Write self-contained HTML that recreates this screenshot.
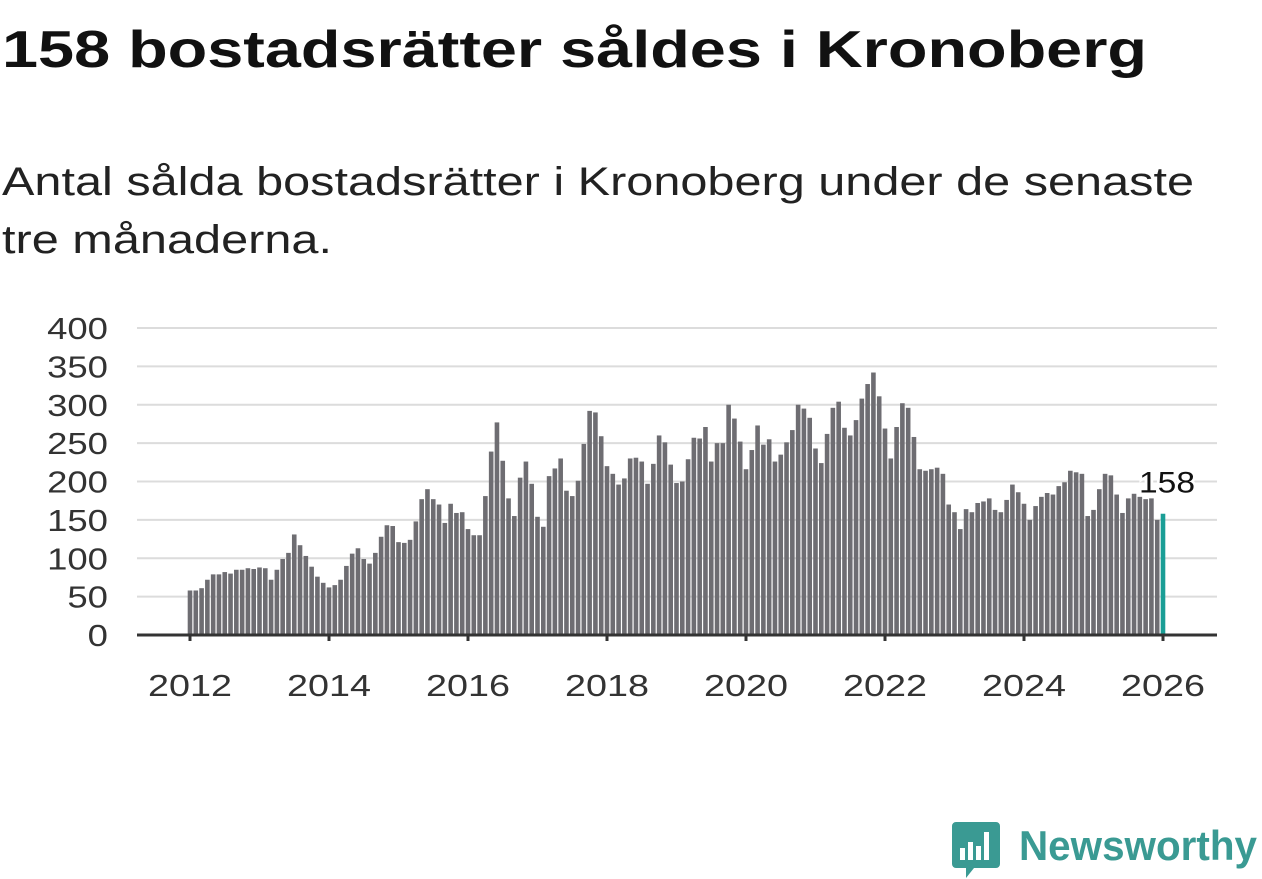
<!DOCTYPE html>
<html><head><meta charset="utf-8"><style>
body{margin:0;background:#fff;width:1262px;height:879px;overflow:hidden}
svg{display:block;font-family:"Liberation Sans","DejaVu Sans",sans-serif}
</style></head><body>
<svg id="chart" width="1262" height="879">
<text x="2" y="67" font-size="52" font-weight="bold" fill="#111" textLength="1145" lengthAdjust="spacingAndGlyphs">158 bostadsrätter såldes i Kronoberg</text>
<text x="2" y="195" font-size="40" fill="#222" textLength="1192" lengthAdjust="spacingAndGlyphs">Antal sålda bostadsrätter i Kronoberg under de senaste</text>
<text x="2" y="253" font-size="40" fill="#222" textLength="330" lengthAdjust="spacingAndGlyphs">tre månaderna.</text>
<g id="grid"></g><g id="bars"></g><g id="axes"></g>
<g>
<path d="M956 822 h40 a4 4 0 0 1 4 4 v38 a4 4 0 0 1 -4 4 h-22 l-8 10 v-10 h-10 a4 4 0 0 1 -4 -4 v-38 a4 4 0 0 1 4 -4z" fill="#3a9a93"/>
<rect x="960" y="848" width="5" height="12" fill="#fff"/><rect x="968" y="842" width="5" height="18" fill="#fff"/><rect x="976" y="846" width="5" height="14" fill="#fff"/><rect x="984" y="832" width="5" height="28" fill="#fff"/>
<text x="1019" y="860" font-size="42" font-weight="bold" fill="#3a9a93" textLength="238" lengthAdjust="spacingAndGlyphs">Newsworthy</text>
</g>
</svg>
<script>
const yTicks=[0,50,100,150,200,250,300,350,400];
const xTickYears=[2012,2014,2016,2018,2020,2022,2024,2026];
const values=[58,58,61,72,79,79,82,80,85,85,87,86,
88,87,72,85,99,107,131,117,103,89,76,68,
62,65,72,90,106,113,99,93,107,128,143,142,
121,120,124,148,177,190,177,170,146,171,159,160,
138,130,130,181,239,277,227,178,155,205,226,197,
154,141,207,217,230,188,181,201,249,292,290,259,
220,210,196,204,230,231,226,197,223,260,251,222,
198,200,229,257,256,271,226,250,250,300,282,252,
216,241,273,248,255,226,235,251,267,300,295,283,
243,224,262,296,304,270,260,280,308,327,342,311,
269,230,271,302,296,258,216,214,216,218,210,170,
160,138,164,160,172,174,178,163,160,176,196,186,
171,150,168,180,185,183,194,199,214,212,210,155,
163,190,210,208,183,159,178,184,180,177,178,150,
158];
const startYear=2012;
const NS='http://www.w3.org/2000/svg';
const X0=137,X1=1217,Y0=635,Ytop=328;
const y=v=>Y0-(v/400)*(Y0-Ytop);
const yearX=yr=>190+(yr-2012)*69.5;
const monthX=i=>yearX(startYear+i/12);
function mk(t,a,p){const e=document.createElementNS(NS,t);for(const k in a)e.setAttribute(k,a[k]);p.appendChild(e);return e;}
const grid=document.getElementById('grid'),bars=document.getElementById('bars'),axes=document.getElementById('axes');
yTicks.forEach(v=>{
 if(v>0){const l=mk('line',{x1:X0,x2:X1,y1:y(v),y2:y(v),stroke:'#dcdcdc','stroke-width':2},grid);
 
 }
 const s=String(v);
 const t=mk('text',{x:108,y:y(v)+11,'font-size':31,fill:'#333','text-anchor':'end',textLength:s.length*20.3,lengthAdjust:'spacingAndGlyphs'},axes);
 t.textContent=v;
 
 
});
values.forEach((v,i)=>{
 const last=i===values.length-1;
 const r=mk('rect',{x:monthX(i)-2.3,y:y(v),width:4.6,height:Y0-y(v),fill:last?'#1a9e96':'#6e6d72'},bars);
 
 
});
const al=mk('line',{x1:X0,x2:X1,y1:Y0,y2:Y0,stroke:'#333','stroke-width':3},axes);


xTickYears.forEach(yr=>{
 const tk=mk('line',{x1:yearX(yr),x2:yearX(yr),y1:Y0,y2:Y0+6,stroke:'#333','stroke-width':3},axes);
 
 
 const t=mk('text',{x:yearX(yr),y:Y0+61,'font-size':31,fill:'#333','text-anchor':'middle',textLength:84,lengthAdjust:'spacingAndGlyphs'},axes);
 t.textContent=yr;
 
 
});
const lastV=values[values.length-1];
const lb=mk('text',{x:monthX(values.length-1)+4,y:y(lastV)-21,'font-size':30,fill:'#111','text-anchor':'middle',stroke:'#fff','stroke-width':5,'paint-order':'stroke',textLength:56,lengthAdjust:'spacingAndGlyphs'},axes);
lb.textContent=lastV;


</script>
</body></html>
